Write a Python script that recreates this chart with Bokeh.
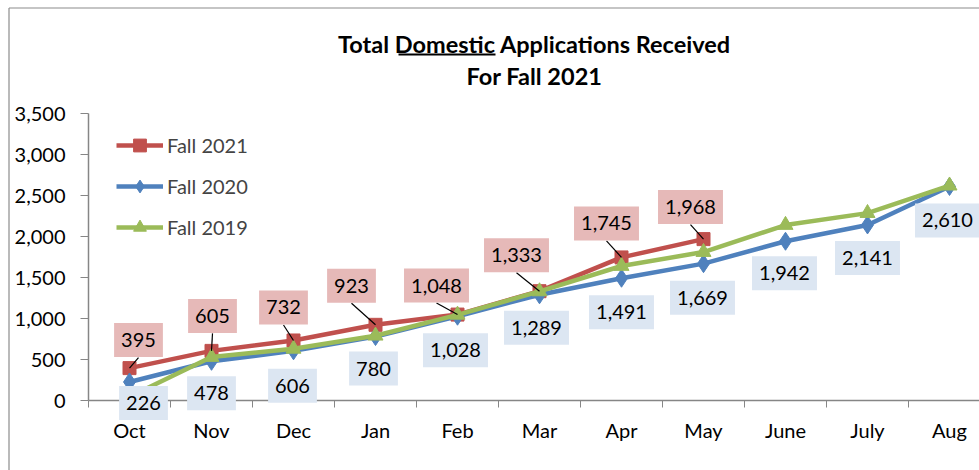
from bokeh.plotting import figure
from bokeh.models import (Range1d, FixedTicker, NumeralTickFormatter, Label,
                          Legend, LegendItem)
from bokeh.embed import file_html
from bokeh.resources import INLINE

# ---------------- data ----------------
months = ["Oct", "Nov", "Dec", "Jan", "Feb", "Mar", "Apr", "May", "June", "July", "Aug"]
fall_2021 = [395, 605, 732, 923, 1048, 1333, 1745, 1968]
fall_2020 = [226, 478, 606, 780, 1028, 1289, 1491, 1669, 1942, 2141, 2610]
fall_2019 = [45, 530, 630, 790, 1045, 1330, 1640, 1810, 2140, 2285, 2620]
y_ticks = [0, 500, 1000, 1500, 2000, 2500, 3000, 3500]
title_line1 = "Total Domestic Applications Received"
title_line2 = "For Fall 2021"

# label offsets in screen pixels (dx right, dy up) -- layout only
red_dx = [9, 1, -10, -24, -21, -23, -15, -13]
red_dy = [28, 35, 33, 39, 29, 36, 34, 32]
blue_dx = [14, 0, -1, -2, -2, -3, 0, -1, -1, 0, -2]
blue_dy = [-21, -32, -35, -32, -34, -33, -34, -34, -32, -33, -34]

# ---------------- layout (page pixels) ----------------
W, H = 979, 470
AXIS_LEFT = 88      # page x of y-axis
AXIS_ZERO = 400     # page y of value 0
py = 287.0 / y_ticks[-1]        # px per unit on y
px = 82.0                       # px per category
x_start = -0.5 - AXIS_LEFT / px
x_end = x_start + W / px
y_end = AXIS_ZERO / py
y_start = -(H - AXIS_ZERO) / py


def X(page_x):
    return x_start + page_x / px


def Y(page_y):
    return (AXIS_ZERO - page_y) / py


FONT = "Lato"
FS = "20px"
RED, BLUE, GREEN = "#C0504D", "#4F81BD", "#9BBB59"
PINK, LBLUE = "#E6B9B8", "#DCE6F2"
AXIS = "#868686"

p = figure(width=W, height=H, output_backend="svg", toolbar_location=None,
           x_range=Range1d(x_start, x_end), y_range=Range1d(y_start, y_end),
           min_border=0, min_border_left=0, min_border_right=0, min_border_top=0,
           min_border_bottom=0, background_fill_color="white",
           border_fill_color="white", outline_line_color=None)
p.grid.visible = False

# chart-area border (left and top edges visible)
p.segment([X(8.5), X(8.5)], [Y(7.5), Y(7.5)], [X(8.5), X(W)], [Y(H), Y(7.5)],
          line_color="#8c8c8c", line_width=1.2)

# axes
xa = p.xaxis[0]
xa.fixed_location = 0
xa.bounds = (-0.5, x_end)
xa.ticker = FixedTicker(ticks=list(range(len(months))),
                        minor_ticks=[i - 0.5 for i in range(len(months) + 1)])
xa.major_label_overrides = {i: m for i, m in enumerate(months)}
xa.major_tick_out = 0
xa.major_tick_in = 0
xa.minor_tick_out = 7
xa.minor_tick_in = 0
xa.minor_tick_line_color = AXIS
xa.axis_line_color = AXIS
xa.axis_line_width = 1.5
xa.major_label_standoff = 10
xa.major_label_text_font = FONT
xa.major_label_text_font_size = FS
xa.major_label_text_color = "black"

ya = p.yaxis[0]
ya.fixed_location = -0.5
ya.ticker = FixedTicker(ticks=y_ticks, minor_ticks=[])
ya.bounds = (0, y_ticks[-1])
ya.formatter = NumeralTickFormatter(format="0,0")
ya.major_tick_out = 8
ya.major_tick_in = 0
ya.minor_tick_out = 0
ya.minor_tick_in = 0
ya.major_tick_line_color = AXIS
ya.axis_line_color = AXIS
ya.axis_line_width = 1.5
ya.major_label_standoff = 15
ya.major_label_text_font = FONT
ya.major_label_text_font_size = FS
ya.major_label_text_color = "black"

# series
x21 = list(range(len(fall_2021)))
x20 = list(range(len(fall_2020)))
x19 = list(range(len(fall_2019)))

r21l = p.line(x21, fall_2021, line_color=RED, line_width=4.5)
r21m = p.scatter(x21, fall_2021, marker="square", size=13, fill_color=RED, line_color=RED)
r20l = p.line(x20, fall_2020, line_color=BLUE, line_width=4.5)
r20m = p.scatter(x20, fall_2020, marker="diamond", size=18, fill_color=BLUE, line_color=BLUE)
r19l = p.line(x19, fall_2019, line_color=GREEN, line_width=4.5)
r19m = p.scatter(x19, fall_2019, marker="triangle", size=15, fill_color=GREEN, line_color=GREEN)

# leader lines for red labels
BOX_H = 35
lx0, ly0, lx1, ly1 = [], [], [], []
for i, v in enumerate(fall_2021):
    lx0.append(i + red_dx[i] / px)
    ly0.append(v + (red_dy[i] - BOX_H / 2) / py)
    lx1.append(i)
    ly1.append(v)
p.segment(lx0, ly0, lx1, ly1, line_color="black", line_width=1.2)


# data labels
def add_label(xv, yv, txt, dx, dy, fill):
    p.add_layout(Label(x=xv, y=yv, x_offset=dx, y_offset=dy, text=txt,
                       text_align="center", text_baseline="middle",
                       text_font=FONT, text_font_size=FS, text_color="black",
                       background_fill_color=fill, background_fill_alpha=1.0,
                       padding=dict(left=7, right=7, top=10, bottom=10)))


for i, v in enumerate(fall_2021):
    add_label(i, v, f"{v:,}", red_dx[i], red_dy[i], PINK)
for i, v in enumerate(fall_2020):
    add_label(i, v, f"{v:,}", blue_dx[i], blue_dy[i], LBLUE)

# legend
legend = Legend(items=[LegendItem(label="Fall 2021", renderers=[r21l, r21m]),
                       LegendItem(label="Fall 2020", renderers=[r20l, r20m]),
                       LegendItem(label="Fall 2019", renderers=[r19l, r19m])],
                location=(116, 227), orientation="vertical",
                background_fill_alpha=0, border_line_alpha=0, padding=0, margin=0,
                spacing=9, glyph_height=32, label_height=32, glyph_width=47,
                label_standoff=4, label_text_font=FONT, label_text_font_size=FS)
p.add_layout(legend)

# title
xc = X(534)
p.add_layout(Label(x=xc, y=Y(43), text=title_line1, text_align="center",
                   text_baseline="middle", text_font=FONT, text_font_size="23.5px",
                   text_font_style="bold", text_color="black"))
p.add_layout(Label(x=xc, y=Y(75), text=title_line2, text_align="center",
                   text_baseline="middle", text_font=FONT, text_font_size="23.5px",
                   text_font_style="bold", text_color="black"))
# underline under "Domestic"
p.segment([X(398)], [Y(54)], [X(495)], [Y(54)], line_color="black", line_width=2)

open("out.html", "w").write(file_html(p, INLINE))
